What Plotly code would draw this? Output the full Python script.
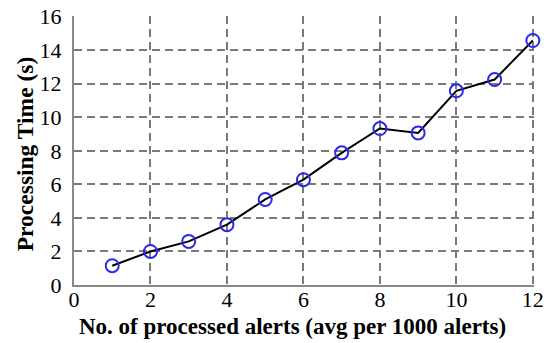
import plotly.graph_objects as go

alerts = [1, 2, 3, 4, 5, 6, 7, 8, 9, 10, 11, 12]
proc_time = [1.15, 2.0, 2.6, 3.6, 5.1, 6.28, 7.88, 9.33, 9.07, 11.58, 12.25, 14.58]
x_ticks = [0, 2, 4, 6, 8, 10, 12]
y_ticks = [0, 2, 4, 6, 8, 10, 12, 14, 16]
x_title = "No. of processed alerts (avg per 1000 alerts)"
y_title = "Processing Time (s)"

fig = go.Figure()
fig.add_trace(go.Scatter(
    x=alerts, y=proc_time, mode="lines+markers",
    line=dict(color="black", width=2),
    marker=dict(symbol="circle-open", size=13, color="#2a2ae8", line=dict(width=2)),
    showlegend=False, cliponaxis=False,
))

grid = dict(showgrid=True, gridcolor="#7a7a7a", griddash="8px,5px", gridwidth=1.6)
fig.update_layout(
    width=550, height=343,
    margin=dict(l=74, r=16, t=16, b=58),
    plot_bgcolor="white", paper_bgcolor="white",
    font=dict(family="Liberation Serif", color="black"),
    xaxis=dict(range=[0, 12.03], tickvals=x_ticks, ticks="", zeroline=False,
               showline=True, linecolor="#888888", linewidth=2,
               tickfont=dict(size=22), automargin=False, ticklabelstandoff=-6, **grid),
    yaxis=dict(range=[0, 16.04], tickvals=y_ticks, ticks="", zeroline=False,
               showline=True, linecolor="#888888", linewidth=2,
               tickfont=dict(size=22), automargin=False, ticklabelstandoff=6, **grid),
    annotations=[
        dict(text="<b>" + x_title + "</b>", xref="paper", yref="paper",
             x=0.474, y=-0.153, showarrow=False, font=dict(size=23),
             xanchor="center", yanchor="middle"),
        dict(text="<b>" + y_title + "</b>", xref="paper", yref="paper",
             x=-0.106, y=0.487, showarrow=False, font=dict(size=23.5), textangle=-90,
             xanchor="center", yanchor="middle"),
    ],
)
fig.write_html("out.html", config={"displayModeBar": False},
               post_script="document.body.style.margin='0';")
